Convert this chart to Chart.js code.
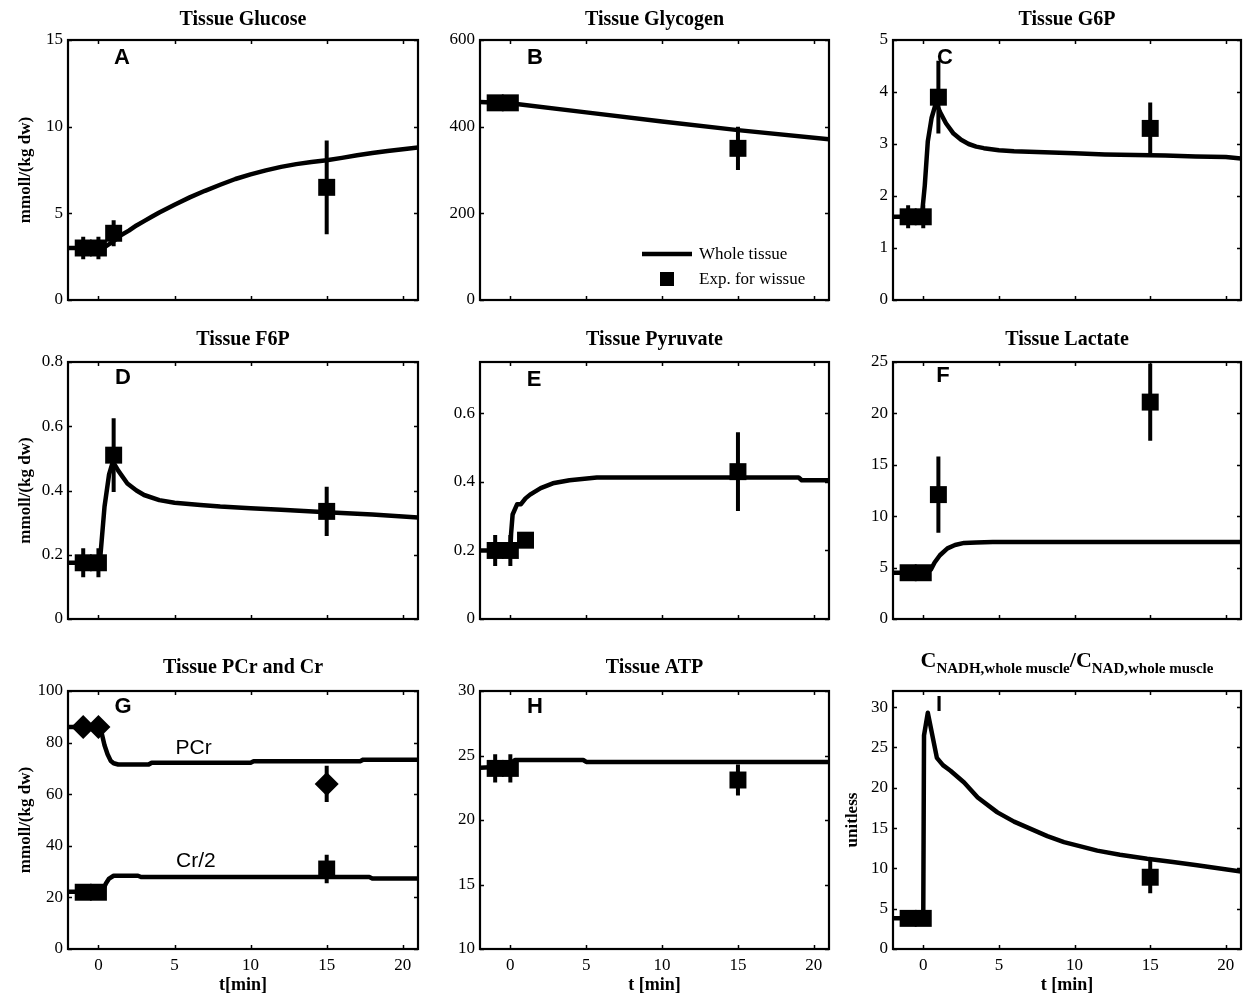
<!DOCTYPE html>
<html><head><meta charset="utf-8">
<script src="https://cdn.jsdelivr.net/npm/chart.js@4.4.0/dist/chart.umd.min.js"></script>
<style>
html,body{margin:0;padding:0;background:#fff;}
#wrap{position:relative;width:1251px;height:1000px;overflow:hidden;background:#fff;}
.pn{position:absolute;}
</style></head><body><div id="wrap"></div>
<script>
// ---------- shared tick labels ----------
const xTicks = [0, 5, 10, 15, 20];

// ---------- A: Tissue Glucose ----------
const glucoseModelT = [-2,-1,0,0.5,1,1.5,2,2.5,3,3.5,4,5,6,7,8,9,10,11,12,13,14,15,16,17,18,19,20,21];
const glucoseModelV = [3.0,3.0,3.0,3.1,3.4,3.75,4.0,4.3,4.55,4.8,5.05,5.5,5.92,6.3,6.65,6.98,7.25,7.48,7.68,7.84,7.96,8.06,8.2,8.35,8.48,8.6,8.7,8.8];
const glucoseExpT = [-1, 0, 1, 15];
const glucoseExpV = [3.0, 3.0, 3.85, 6.5];
const glucoseExpE = [0.65, 0.65, 0.75, 2.7];
const glucoseYTicks = [0, 5, 10, 15];

// ---------- B: Tissue Glycogen ----------
const glycogenModelT = [-2, 0, 5, 10, 15, 21];
const glycogenModelV = [457, 454, 433, 412, 392, 371];
const glycogenExpT = [-1, 0, 15];
const glycogenExpV = [455, 455, 350];
const glycogenExpE = [10, 10, 50];
const glycogenYTicks = [0, 200, 400, 600];

// ---------- C: Tissue G6P ----------
const g6pModelT = [-2,-1,-0.1,0.1,0.3,0.55,0.85,1.1,1.5,2,2.5,3,3.5,4,5,6,8,10,12,14,16,18,20,21];
const g6pModelV = [1.6,1.6,1.6,2.2,3.05,3.5,3.8,3.62,3.4,3.2,3.08,3.0,2.95,2.92,2.88,2.86,2.84,2.82,2.8,2.79,2.78,2.76,2.75,2.72];
const g6pExpT = [-1, 0, 1, 15];
const g6pExpV = [1.6, 1.6, 3.9, 3.3];
const g6pExpE = [0.22, 0.22, 0.7, 0.5];
const g6pYTicks = [0, 1, 2, 3, 4, 5];

// ---------- D: Tissue F6P ----------
const f6pModelT = [-2,-1,0,0.1,0.4,0.7,0.95,1.3,1.9,2.5,3,4,5,6.7,8,10,12,15,18,21];
const f6pModelV = [0.175,0.175,0.175,0.18,0.35,0.45,0.49,0.462,0.422,0.4,0.386,0.37,0.362,0.355,0.35,0.345,0.34,0.332,0.325,0.316];
const f6pExpT = [-1, 0, 1, 15];
const f6pExpV = [0.175, 0.175, 0.51, 0.335];
const f6pExpE = [0.045, 0.045, 0.115, 0.077];
const f6pYTicks = [0, 0.2, 0.4, 0.6, 0.8];

// ---------- E: Tissue Pyruvate ----------
const pyrModelT = [-2,-1,0,0.05,0.15,0.45,0.7,1.0,1.3,2,2.8,3.9,5.7,10,15,19,19.2,21];
const pyrModelV = [0.2,0.2,0.2,0.25,0.305,0.335,0.335,0.352,0.363,0.382,0.396,0.405,0.413,0.413,0.413,0.413,0.405,0.405];
const pyrExpT = [-1, 0, 1, 15];
const pyrExpV = [0.2, 0.2, 0.23, 0.43];
const pyrExpE = [0.045, 0.045, 0.01, 0.115];
const pyrYTicks = [0, 0.2, 0.4, 0.6];

// ---------- F: Tissue Lactate ----------
const lacModelT = [-2,-1,0,0.5,0.75,1.1,1.6,2.1,2.7,3.5,4.6,10,15,21];
const lacModelV = [4.5,4.5,4.5,4.8,5.5,6.2,6.87,7.2,7.4,7.45,7.5,7.5,7.5,7.5];
const lacExpT = [-1, 0, 1, 15];
const lacExpV = [4.5, 4.5, 12.1, 21.1];
const lacExpE = [0.5, 0.5, 3.7, 3.75];
const lacYTicks = [0, 5, 10, 15, 20, 25];

// ---------- G: Tissue PCr and Cr ----------
const pcrModelT = [-2,-1,0,0.2,0.4,0.6,0.8,1.0,1.3,3.3,3.5,10,10.2,17.2,17.4,21];
const pcrModelV = [86,86,86,84,79,75.5,73,72,71.5,71.5,72.2,72.2,72.8,72.8,73.4,73.4];
const crModelT = [-2,-1,0,0.3,0.5,0.7,1.0,2.6,2.8,17.8,18,21];
const crModelV = [22.2,22.2,22.2,23,25.5,27.3,28.4,28.4,27.9,27.9,27.3,27.3];
const pcrExpT = [-1, 0, 15];
const pcrExpV = [86, 86, 64];
const pcrExpE = [2, 2, 7];
const crExpT = [-1, 0, 15];
const crExpV = [22, 22, 31];
const crExpE = [1, 1, 5.5];
const pcrYTicks = [0, 20, 40, 60, 80, 100];

// ---------- H: Tissue ATP ----------
const atpModelT = [-2,-1,-0.5,0,0.3,4.8,5,21];
const atpModelV = [24.05,24.1,24.2,24.4,24.65,24.65,24.5,24.5];
const atpExpT = [-1, 0, 15];
const atpExpV = [24, 24, 23.1];
const atpExpE = [1.1, 1.1, 1.2];
const atpYTicks = [10, 15, 20, 25, 30];

// ---------- I: NADH/NAD ----------
const nadModelT = [-2,-1,0,0.05,0.3,0.9,1.3,1.8,2.7,3.6,4.9,6,7.1,8.2,9.3,11.5,13,14.8,16.5,18.1,21];
const nadModelV = [3.8,3.8,3.8,26.5,29.3,23.7,22.8,22.1,20.65,18.8,16.95,15.8,14.9,14.0,13.25,12.2,11.7,11.2,10.8,10.4,9.6];
const nadExpT = [-1, 0, 15];
const nadExpV = [3.8, 3.8, 8.9];
const nadExpE = [0.5, 0.5, 2];
const nadYTicks = [0, 5, 10, 15, 20, 25, 30];

// ---------- layout ----------
const SERIF = '"Liberation Serif","Times New Roman",Times,serif';
const SANS = '"Liberation Sans",Arial,Helvetica,sans-serif';
const COLS = [
  {left:0, width:425, yW:68, padRight:7},
  {left:425, width:410, yW:55, padRight:6},
  {left:835, width:416, yW:58, padRight:10}
];
const ROWS = [
  {top:0, height:320, padTop:40, xH:20, showX:false, titleY:20},
  {top:320, height:320, padTop:42, xH:21, showX:false, titleY:20},
  {top:650, height:350, padTop:41, xH:51, showX:true, titleY:18}
];

const panels = [
  {col:0,row:0,title:'Tissue Glucose',letter:'A',lp:[54,18],yMin:0,yMax:15,yTicks:glucoseYTicks,yTitle:'mmoll/(kg dw)',yTitlePad:15,
   models:[[glucoseModelT,glucoseModelV]], exps:[[glucoseExpT,glucoseExpV,glucoseExpE,'rect']]},
  {col:1,row:0,title:'Tissue Glycogen',letter:'B',lp:[55,18],yMin:0,yMax:600,yTicks:glycogenYTicks,legend:true,
   models:[[glycogenModelT,glycogenModelV]], exps:[[glycogenExpT,glycogenExpV,glycogenExpE,'rect']]},
  {col:2,row:0,title:'Tissue G6P',letter:'C',lp:[52,18],yMin:0,yMax:5,yTicks:g6pYTicks,
   models:[[g6pModelT,g6pModelV]], exps:[[g6pExpT,g6pExpV,g6pExpE,'rect']]},
  {col:0,row:1,title:'Tissue F6P',letter:'D',lp:[55,16],yMin:0,yMax:0.8,yTicks:f6pYTicks,yTitle:'mmoll/(kg dw)',yTitlePad:15,
   models:[[f6pModelT,f6pModelV]], exps:[[f6pExpT,f6pExpV,f6pExpE,'rect']]},
  {col:1,row:1,title:'Tissue Pyruvate',letter:'E',lp:[54,18],yMin:0,yMax:0.75,yTicks:pyrYTicks,
   models:[[pyrModelT,pyrModelV]], exps:[[pyrExpT,pyrExpV,pyrExpE,'rect']]},
  {col:2,row:1,title:'Tissue Lactate',letter:'F',lp:[50,14],yMin:0,yMax:25,yTicks:lacYTicks,
   models:[[lacModelT,lacModelV]], exps:[[lacExpT,lacExpV,lacExpE,'rect']]},
  {col:0,row:2,title:'Tissue PCr and Cr',letter:'G',lp:[55,16],yMin:0,yMax:100,yTicks:pcrYTicks,yTitle:'mmoll/(kg dw)',yTitlePad:15,xTitle:'t[min]',
   models:[[pcrModelT,pcrModelV],[crModelT,crModelV]], exps:[[pcrExpT,pcrExpV,pcrExpE,'rectRot'],[crExpT,crExpV,crExpE,'rect']],
   labels:[['PCr',6.25,77.8],['Cr/2',6.4,34]]},
  {col:1,row:2,title:'Tissue ATP',letter:'H',lp:[55,16],yMin:10,yMax:30,yTicks:atpYTicks,xTitle:'t [min]',
   models:[[atpModelT,atpModelV]], exps:[[atpExpT,atpExpV,atpExpE,'rect']]},
  {col:2,row:2,title:null,nadTitle:true,letter:'I',lp:[46,14],yMin:0,yMax:32,yTicks:nadYTicks,yTitle:'unitless',yTitlePad:7,xTitle:'t [min]',
   models:[[nadModelT,nadModelV]], exps:[[nadExpT,nadExpV,nadExpE,'rect']]}
];

const decorPlugin = {
  id:'decor',
  afterDatasetsDraw(chart){
    const p = chart.$panel, row = ROWS[p.row];
    const {ctx, chartArea:a, scales:{x, y}} = chart;
    ctx.save();
    // inward ticks
    ctx.strokeStyle = '#000'; ctx.lineWidth = 1.5;
    ctx.beginPath();
    xTicks.forEach(v => {
      const px = Math.round(x.getPixelForValue(v)) + 0.5;
      ctx.moveTo(px, a.bottom); ctx.lineTo(px, a.bottom - 4);
      ctx.moveTo(px, a.top); ctx.lineTo(px, a.top + 4);
    });
    p.yTicks.forEach(v => {
      const py = Math.round(y.getPixelForValue(v)) + 0.5;
      ctx.moveTo(a.left, py); ctx.lineTo(a.left + 4, py);
      ctx.moveTo(a.right, py); ctx.lineTo(a.right - 4, py);
    });
    ctx.stroke();
    // box
    ctx.lineWidth = 2.2;
    ctx.strokeRect(a.left, a.top, a.right - a.left, a.bottom - a.top);
    // panel letter
    ctx.fillStyle = '#000';
    ctx.font = 'bold 22px ' + SANS;
    ctx.textAlign = 'center'; ctx.textBaseline = 'middle';
    ctx.fillText(p.letter, a.left + p.lp[0], a.top + p.lp[1]);
    // curve labels
    if (p.labels) {
      ctx.font = '21px ' + SANS;
      p.labels.forEach(([t, lx, ly]) => ctx.fillText(t, x.getPixelForValue(lx), y.getPixelForValue(ly)));
    }
    // legend (panel B)
    if (p.legend) {
      const ds0 = chart.data.datasets[0];
      ctx.strokeStyle = ds0.borderColor; ctx.lineWidth = ds0.borderWidth;
      ctx.beginPath(); ctx.moveTo(a.left + 162, a.top + 214); ctx.lineTo(a.left + 212, a.top + 214); ctx.stroke();
      ctx.fillRect(a.left + 180, a.top + 232, 14, 14);
      ctx.font = '17px ' + SERIF; ctx.textAlign = 'left';
      ctx.fillText('Whole tissue', a.left + 219, a.top + 215);
      ctx.fillText('Exp. for wissue', a.left + 219, a.top + 240);
    }
    // title
    const cx = (a.left + a.right) / 2;
    if (p.title) {
      ctx.font = 'bold 20px ' + SERIF; ctx.textAlign = 'center'; ctx.textBaseline = 'middle';
      ctx.fillText(p.title, cx, row.titleY);
    } else if (p.nadTitle) {
      const parts = [['C', 22, 0], ['NADH,whole muscle', 15, 6], ['/C', 22, 0], ['NAD,whole muscle', 15, 6]];
      let total = 0;
      parts.forEach(pt => { ctx.font = 'bold ' + pt[1] + 'px ' + SERIF; pt.push(ctx.measureText(pt[0]).width); total += pt[3]; });
      let xx = cx - total / 2;
      ctx.textAlign = 'left'; ctx.textBaseline = 'alphabetic';
      parts.forEach(pt => { ctx.font = 'bold ' + pt[1] + 'px ' + SERIF; ctx.fillText(pt[0], xx, 17 + pt[2]); xx += pt[3]; });
    }
    ctx.restore();
  }
};

const wrap = document.getElementById('wrap');
panels.forEach(p => {
  const col = COLS[p.col], row = ROWS[p.row];
  const div = document.createElement('div');
  div.className = 'pn';
  div.style.left = col.left + 'px'; div.style.top = row.top + 'px';
  div.style.width = col.width + 'px'; div.style.height = row.height + 'px';
  const cv = document.createElement('canvas');
  cv.width = col.width; cv.height = row.height;
  cv.style.width = col.width + 'px'; cv.style.height = row.height + 'px';
  div.appendChild(cv); wrap.appendChild(div);

  const datasets = [];
  p.models.forEach(([t, v]) => datasets.push({
    type:'line', data:t.map((tt, i) => ({x:tt, y:v[i]})), borderColor:'#000', borderWidth:4.5,
    pointRadius:0, tension:0, borderJoinStyle:'round', fill:false, order:3
  }));
  p.exps.forEach(([t, v, e, style]) => {
    const eb = [];
    t.forEach((tt, i) => { eb.push({x:tt, y:v[i] - e[i]}, {x:tt, y:v[i] + e[i]}, {x:tt, y:null}); });
    datasets.push({type:'line', data:eb, borderColor:'#000', borderWidth:4, pointRadius:0, spanGaps:false, borderCapStyle:'butt', fill:false, order:2});
    datasets.push({type:'line', data:t.map((tt, i) => ({x:tt, y:v[i]})), showLine:false, pointStyle:style,
      pointRadius:12, pointBackgroundColor:'#000', pointBorderColor:'#000', pointBorderWidth:0, order:1});
  });

  new Chart(cv, {
    type:'line',
    data:{datasets},
    options:{
      responsive:false, animation:false, maintainAspectRatio:false,
      events:[],
      layout:{autoPadding:false, padding:{top:row.padTop, right:col.padRight, left:0, bottom:0}},
      plugins:{legend:{display:false}, tooltip:{enabled:false}, title:{display:false}},
      scales:{
        x:{type:'linear', min:-2, max:21, offset:false,
           grid:{display:false, drawTicks:false}, border:{display:false},
           afterBuildTicks:s => { s.ticks = xTicks.map(v => ({value:v})); },
           ticks:{display:row.showX, font:{family:SERIF, size:17}, color:'#000', padding:6, maxRotation:0, autoSkip:false},
           title:{display:!!p.xTitle, text:p.xTitle || '', font:{family:SERIF, size:18, weight:'bold'}, color:'#000', padding:{top:0, bottom:4}},
           afterFit:s => { s.height = row.xH; s.paddingLeft = 0; s.paddingRight = 0; }},
        y:{type:'linear', min:p.yMin, max:p.yMax,
           grid:{display:false, drawTicks:false}, border:{display:false},
           afterBuildTicks:s => { s.ticks = p.yTicks.map(v => ({value:v})); },
           ticks:{font:{family:SERIF, size:17}, color:'#000', padding:5, autoSkip:false},
           title:{display:!!p.yTitle, text:p.yTitle || '', font:{family:SERIF, size:17, weight:'bold'}, color:'#000', padding:{top:p.yTitlePad || 0, bottom:0}},
           afterFit:s => { s.width = col.yW; s.paddingTop = 0; s.paddingBottom = 0; }}
      }
    },
    plugins:[{id:'setp', beforeInit(c){ c.$panel = p; }}, decorPlugin]
  });
});
</script></body></html>
